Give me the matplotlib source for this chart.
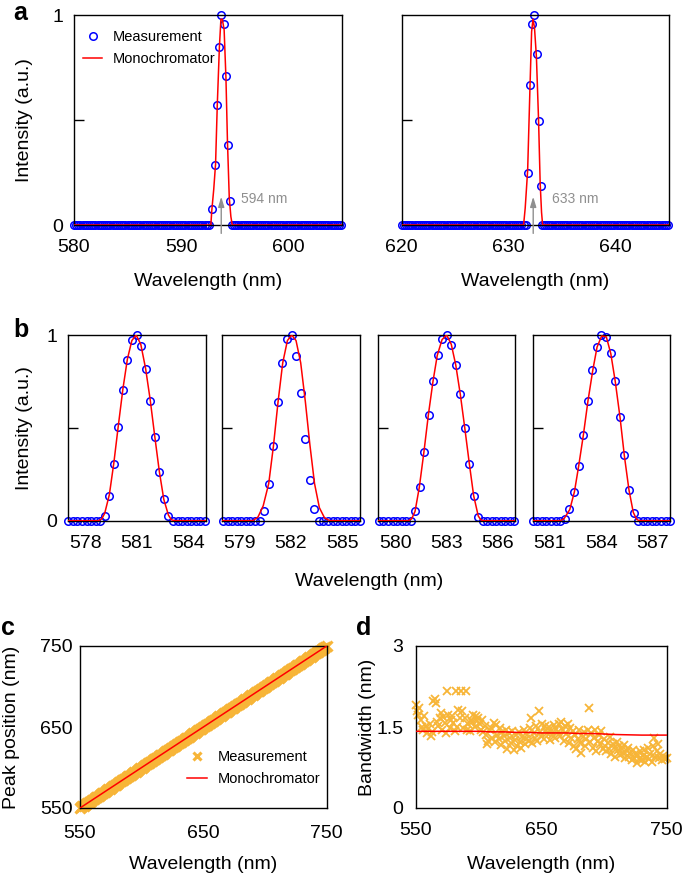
import numpy as np
import matplotlib
matplotlib.use('Agg')
import matplotlib.pyplot as plt

plt.rcParams['font.family'] = ['Liberation Sans', 'DejaVu Sans']
plt.rcParams['axes.linewidth'] = 1.0

W, H = 685, 876
BLUE = '#0000ff'
RED = '#ff0000'
ORANGE = '#f7b538'
GREY = '#8f8f8f'

# ---- panel a: two laser lines ----
a_xlim = [(580, 605), (620, 645)]
a_xticks = [[580, 590, 600], [620, 630, 640]]
a_line_pos = [593.75, 632.3]
a_line_text = ['594 nm', '633 nm']

# flat (zero) part of the measurement, sampled every 0.2 nm
a_zero_wl = [np.concatenate([np.arange(580, 592.7, 0.2), np.arange(594.76, 605.01, 0.2)]),
             np.concatenate([np.arange(620, 631.6, 0.2), np.arange(633.1, 645.01, 0.2)])]
a_peak_wl = [[592.87, 593.2, 593.38, 593.58, 593.75, 594.02, 594.19, 594.37, 594.56],
             [631.78, 632.03, 632.22, 632.40, 632.62, 632.84, 632.99]]
a_peak_int = [[0.078, 0.284, 0.573, 0.848, 1.0, 0.956, 0.711, 0.382, 0.114],
              [0.249, 0.668, 0.959, 1.0, 0.814, 0.495, 0.186]]
a_mono_wl = [[580, 592.78, 592.87, 593.05, 593.22, 593.38, 593.58, 593.72, 593.85,
              594.02, 594.19, 594.33, 594.5, 594.65, 594.78, 605],
             [620, 631.40, 631.55, 631.78, 632.0, 632.15, 632.28, 632.42, 632.6,
              632.8, 632.95, 633.08, 633.18, 645]]
a_mono_int = [[0, 0, 0.07, 0.17, 0.29, 0.57, 0.85, 0.98, 0.98, 0.93, 0.70, 0.40, 0.13, 0.04, 0, 0],
              [0, 0, 0.08, 0.26, 0.66, 0.92, 0.98, 0.94, 0.80, 0.50, 0.20, 0.06, 0, 0]]

# ---- panel b: four monochromator settings ----
b_xlim = [(577, 585), (578, 586), (579, 587), (580, 588)]
b_center = [581, 582, 583, 584]
b_start = [577.0, 578.08, 579.04, 580.0]
b_step = [0.265, 0.264, 0.264, 0.267]
b_meas = [
    [0] * 8 + [0.027, 0.133, 0.305, 0.506, 0.706, 0.867, 0.971, 1.0, 0.943, 0.819,
               0.646, 0.451, 0.264, 0.115, 0.025] + [0] * 8,
    [0] * 9 + [0.054, 0.198, 0.404, 0.639, 0.847, 0.978, 1.0, 0.887, 0.686, 0.442,
               0.217, 0.061] + [0] * 10,
    [0] * 8 + [0.05, 0.181, 0.368, 0.569, 0.752, 0.894, 0.977, 1.0, 0.948, 0.838,
               0.682, 0.497, 0.304, 0.135, 0.022] + [0] * 8,
    [0] * 7 + [0.011, 0.063, 0.156, 0.296, 0.463, 0.645, 0.810, 0.937, 1.0, 0.989,
               0.901, 0.751, 0.557, 0.352, 0.167, 0.043] + [0] * 8,
]
b_mono_wl = [
    [577, 578.75, 578.95, 579.12, 579.39, 579.65, 579.91, 580.18, 580.44, 580.7, 580.95,
     581.22, 581.5, 581.77, 582.04, 582.3, 582.56, 582.83, 583.0, 583.2, 585],
    [578, 579.8, 580.1, 580.4, 580.72, 580.99, 581.26, 581.53, 581.8, 582.05, 582.3,
     582.57, 582.84, 583.1, 583.37, 583.65, 583.95, 584.25, 586],
    [579, 580.75, 580.95, 581.15, 581.40, 581.67, 581.93, 582.20, 582.45, 582.73, 583.0,
     583.27, 583.53, 583.80, 584.06, 584.33, 584.58, 584.85, 585.0, 585.15, 587],
    [580, 581.6, 581.82, 582.16, 582.43, 582.68, 582.95, 583.22, 583.5, 583.75, 584.02,
     584.29, 584.55, 584.81, 585.09, 585.34, 585.61, 585.86, 586.05, 586.2, 588],
]
b_mono_int = [
    [0, 0, 0.01, 0.04, 0.14, 0.31, 0.51, 0.71, 0.87, 0.97, 1.0, 0.95, 0.82, 0.65, 0.45,
     0.265, 0.115, 0.03, 0.005, 0, 0],
    [0, 0, 0.02, 0.08, 0.2, 0.4, 0.64, 0.85, 0.97, 1.0, 0.97, 0.85, 0.64, 0.41, 0.2,
     0.07, 0.015, 0, 0],
    [0, 0, 0.01, 0.05, 0.18, 0.37, 0.57, 0.75, 0.89, 0.975, 1.0, 0.95, 0.84, 0.68, 0.5,
     0.305, 0.135, 0.025, 0.005, 0, 0],
    [0, 0, 0.01, 0.06, 0.155, 0.295, 0.46, 0.645, 0.81, 0.935, 0.995, 0.99, 0.9, 0.75,
     0.555, 0.35, 0.165, 0.045, 0.008, 0, 0],
]

# ---- panels c, d: scan 550-750 nm ----
scan_wl = np.arange(550, 751)
peak_pos = scan_wl.copy()
mono_wl_cd = [550, 750]
mono_peak = [550, 750]
bandwidth = [
    1.91, 1.79, 1.72, 1.85, 1.63, 1.50, 1.44, 1.70, 1.52, 1.38,
    1.47, 1.55, 1.33, 1.40, 1.98, 2.02, 1.95, 1.60, 1.52, 1.67,
    1.76, 1.45, 1.68, 1.58, 1.38, 2.16, 1.72, 1.49, 1.63, 1.70,
    1.58, 1.43, 2.16, 1.50, 1.82, 1.66, 2.16, 1.79, 1.48, 1.67,
    2.16, 1.45, 1.55, 1.42, 1.63, 1.60, 1.73, 1.50, 1.70, 1.62,
    1.66, 1.55, 1.45, 1.63, 1.40, 1.52, 1.36, 1.18, 1.25, 1.45,
    1.48, 1.30, 1.58, 1.22, 1.53, 1.35, 1.28, 1.48, 1.16, 1.40,
    1.33, 1.25, 1.45, 1.10, 1.38, 1.30, 1.20, 1.42, 1.08, 1.26,
    1.35, 1.15, 1.40, 1.22, 1.12, 1.31, 1.45, 1.18, 1.28, 1.36,
    1.25, 1.48, 1.67, 1.20, 1.38, 1.30, 1.52, 1.24, 1.79, 1.40,
    1.33, 1.55, 1.28, 1.51, 1.45, 1.38, 1.50, 1.26, 1.42, 1.35,
    1.53, 1.30, 1.47, 1.40, 1.56, 1.33, 1.60, 1.45, 1.25, 1.52,
    1.37, 1.56, 1.20, 1.48, 1.30, 1.42, 1.15, 1.35, 1.10, 1.28,
    1.44, 1.20, 1.02, 1.32, 1.40, 1.15, 1.27, 1.45, 1.85, 1.22,
    1.38, 1.12, 1.30, 1.45, 1.05, 1.25, 1.35, 1.18, 1.42, 1.10,
    1.28, 1.15, 1.05, 1.20, 1.10, 1.32, 1.00, 1.18, 1.12, 0.95,
    1.22, 1.08, 1.15, 0.98, 1.10, 1.02, 1.17, 0.92, 1.05, 1.12,
    0.95, 1.02, 0.88, 1.08, 0.92, 1.00, 0.84, 0.98, 0.90, 1.05,
    0.88, 0.96, 1.08, 0.85, 0.94, 1.12, 0.90, 1.00, 0.86, 1.15,
    1.30, 0.95, 1.05, 1.18, 0.92, 1.00, 0.88, 0.97, 0.93, 0.90,
    0.92,
]
mono_bw_wl = [550, 560, 570, 580, 590, 600, 610, 620, 630, 640, 650,
              660, 670, 680, 690, 700, 710, 720, 730, 740, 750]
mono_bw = [1.42, 1.42, 1.42, 1.42, 1.42, 1.42, 1.41, 1.41, 1.40, 1.40, 1.39,
           1.39, 1.39, 1.38, 1.38, 1.37, 1.36, 1.355, 1.35, 1.35, 1.35]


fig = plt.figure(figsize=(W / 100, H / 100), dpi=100)


def box(l, t, r, b):
    # pixel box -> figure fraction
    return [l / W, 1 - b / H, (r - l) / W, (b - t) / H]


def put(x, y, s, **kw):
    fig.text(x / W, 1 - y / H, s, **kw)


def ticks(ax, xt, xl, yt, yl, xm, ym, xpad=10, ypad=8):
    ax.set_xticks(xt)
    ax.set_xticklabels(xl)
    ax.set_yticks(yt)
    ax.set_yticklabels(yl)
    ax.set_xticks(xm, minor=True)
    ax.set_yticks(ym, minor=True)
    ax.tick_params(which='major', length=0, labelsize=14)
    ax.tick_params(axis='x', which='major', pad=xpad)
    ax.tick_params(axis='y', which='major', pad=ypad)
    ax.tick_params(which='minor', direction='in', length=7, width=1)


circ = dict(ls='none', marker='o', mfc='none', mec=BLUE, ms=5.4, mew=1.1, clip_on=False)

# panel a
a_boxes = [box(74, 15, 341.7, 225), box(401.7, 15, 669, 225)]
for i in range(2):
    ax = fig.add_axes(a_boxes[i])
    ml, = ax.plot(a_mono_wl[i], a_mono_int[i], color=RED, lw=1.1, zorder=3)
    wl = np.concatenate([a_zero_wl[i], a_peak_wl[i]])
    it = np.concatenate([np.zeros(len(a_zero_wl[i])), a_peak_int[i]])
    mm, = ax.plot(wl, it, **circ)
    ax.set_xlim(*a_xlim[i])
    ax.set_ylim(0, 1)
    ticks(ax, a_xticks[i], [str(t) for t in a_xticks[i]],
          [0, 1], ['0', '1'] if i == 0 else ['', ''],
          a_xticks[i][1:], [0.5])
    p = a_line_pos[i]
    ax.annotate('', xy=(p, 0.135), xytext=(p, -0.04), annotation_clip=False,
                arrowprops=dict(arrowstyle='-|>,head_length=0.6,head_width=0.18',
                                color=GREY, lw=1, shrinkA=0, shrinkB=0))
    ax.text(p + 1.8, 0.125, a_line_text[i], color=GREY, fontsize=10, va='center')
    if i == 0:
        ax.legend([mm, ml], ['Measurement', 'Monochromator'], loc='upper left',
                  bbox_to_anchor=(0.034, 0.93), frameon=False, fontsize=10.5,
                  handlelength=1.3, handletextpad=0.7, labelspacing=0.6,
                  borderpad=0, borderaxespad=0)
put(208, 286, 'Wavelength (nm)', ha='center', va='baseline', fontsize=14)
put(535, 286, 'Wavelength (nm)', ha='center', va='baseline', fontsize=14)
put(25, 120, 'Intensity (a.u.)', ha='center', va='center', rotation=90, fontsize=14)

# panel b
b_left = [68.3, 221.7, 378.3, 532.7]
b_right = [205.7, 360, 515, 670]
for i in range(4):
    ax = fig.add_axes(box(b_left[i], 335, b_right[i], 520.7))
    ax.plot(b_mono_wl[i], b_mono_int[i], color=RED, lw=1.1, zorder=3)
    wl = b_start[i] + b_step[i] * np.arange(len(b_meas[i]))
    ax.plot(wl, b_meas[i], **circ)
    ax.set_xlim(*b_xlim[i])
    ax.set_ylim(0, 1)
    c = b_center[i]
    ticks(ax, [c - 3, c, c + 3], [str(c - 3), str(c), str(c + 3)],
          [0, 1], ['0', '1'] if i == 0 else ['', ''], [c], [0.5])
put(369, 586, 'Wavelength (nm)', ha='center', va='baseline', fontsize=14)
put(25, 428, 'Intensity (a.u.)', ha='center', va='center', rotation=90, fontsize=14)

# panel c
ax = fig.add_axes(box(80, 646, 326.7, 808))
mm, = ax.plot(scan_wl, peak_pos, ls='none', marker='x', ms=7, mew=2.2, color=ORANGE,
              clip_on=False)
ml, = ax.plot(mono_wl_cd, mono_peak, color=RED, lw=1.1, zorder=3)
ax.set_xlim(550, 750)
ax.set_ylim(550, 750)
ticks(ax, [550, 650, 750], ['550', '650', '750'], [550, 650, 750], ['550', '650', '750'],
      [650], [650], xpad=12, ypad=5.5)
ax.legend([mm, ml], ['Measurement', 'Monochromator'], loc='upper left',
          bbox_to_anchor=(0.4325, 0.355), frameon=False, fontsize=10.5,
          handlelength=1.4, handletextpad=0.75, labelspacing=0.5,
          borderpad=0, borderaxespad=0, markerscale=0.75)
put(203, 869, 'Wavelength (nm)', ha='center', va='baseline', fontsize=14)
put(12, 727, 'Peak position (nm)', ha='center', va='center', rotation=90, fontsize=14)

# panel d
ax = fig.add_axes(box(415.7, 646, 666.7, 808))
ax.plot(scan_wl, bandwidth, ls='none', marker='x', ms=6.3, mew=1.3, color=ORANGE,
        clip_on=False)
ax.plot(mono_bw_wl, mono_bw, color=RED, lw=1.1, zorder=3)
ax.set_xlim(550, 750)
ax.set_ylim(0, 3)
ticks(ax, [550, 650, 750], ['550', '650', '750'], [0, 1.5, 3], ['0', '1.5', '3'],
      [650], [1.5], xpad=10, ypad=9)
put(541, 869, 'Wavelength (nm)', ha='center', va='baseline', fontsize=14)
put(368, 727, 'Bandwidth (nm)', ha='center', va='center', rotation=90, fontsize=14)

# panel letters
put(13, 19.5, 'a', fontsize=18, fontweight='bold', va='baseline')
put(13, 337, 'b', fontsize=18, fontweight='bold', va='baseline')
put(1, 635, 'c', fontsize=18, fontweight='bold', va='baseline')
put(356, 635, 'd', fontsize=18, fontweight='bold', va='baseline')

fig.savefig('out.png', dpi=100)
